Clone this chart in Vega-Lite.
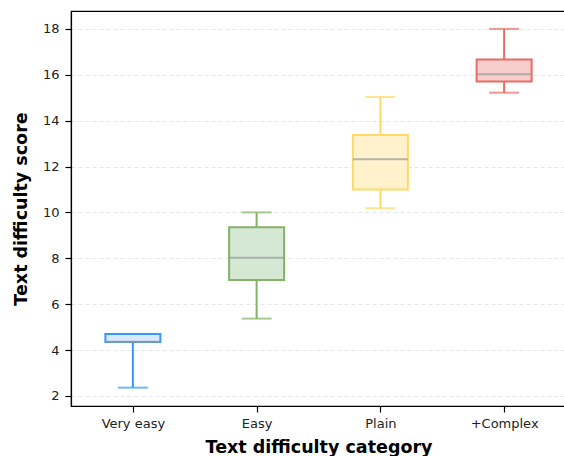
{
  "$schema": "https://vega.github.io/schema/vega-lite/v6.json",
  "autosize": "none",
  "padding": {"left": 71, "top": 11, "right": 0, "bottom": 50},
  "width": 495,
  "height": 395,
  "background": "white",
  "config": {
    "font": "DejaVu Sans",
    "view": {"stroke": "black", "strokeWidth": 1.2},
    "axis": {"labelFont": "DejaVu Sans", "titleFont": "DejaVu Sans", "labelColor": "#222222", "titleColor": "black", "domainColor": "black", "domainWidth": 1.2, "tickColor": "black", "tickWidth": 1.2, "tickSize": 6, "labelFontSize": 13, "titleFontSize": 17.5, "titleFontWeight": "bold"}
  },
  "data": {"values": [
    {"category": "Very easy", "lower": 2.36, "q1": 4.35, "median": 4.36, "q3": 4.7, "upper": 4.7},
    {"category": "Easy", "lower": 5.37, "q1": 7.05, "median": 8.02, "q3": 9.35, "upper": 10.0},
    {"category": "Plain", "lower": 10.18, "q1": 11.0, "median": 12.32, "q3": 13.37, "upper": 15.03},
    {"category": "+Complex", "lower": 15.22, "q1": 15.71, "median": 16.02, "q3": 16.67, "upper": 18.0}
  ]},
  "encoding": {
    "x": {"field": "category", "type": "nominal", "sort": ["Very easy", "Easy", "Plain", "+Complex"],
      "scale": {"type": "point", "padding": 0.5},
      "axis": {"title": "Text difficulty category", "labelAngle": 0, "labelPadding": 5, "titlePadding": 8, "grid": false}}
  },
  "layer": [
    {
      "mark": {"type": "rule", "strokeWidth": 2},
      "encoding": {
        "y": {"field": "lower", "type": "quantitative", "scale": {"domain": [1.56, 18.78], "nice": false, "zero": false},
          "axis": {"title": "Text difficulty score", "values": [2,4,6,8,10,12,14,16,18], "grid": true, "gridDash": [4,3], "gridColor": "#e6e6e6", "labelPadding": 6, "titlePadding": 12}},
        "y2": {"field": "upper"},
        "stroke": {"field": "category", "type": "nominal", "scale": {"domain": ["Very easy", "Easy", "Plain", "+Complex"], "range": ["#3399ff", "#82b366", "#ffd966", "#ea6b66"]}, "legend": null}
      }
    },
    {
      "mark": {"type": "tick", "thickness": 2, "size": 30},
      "encoding": {
        "y": {"field": "lower", "type": "quantitative"},
        "color": {"field": "category", "type": "nominal", "scale": {"domain": ["Very easy", "Easy", "Plain", "+Complex"], "range": ["#3399ff", "#82b366", "#ffd966", "#ea6b66"]}, "legend": null}
      }
    },
    {
      "mark": {"type": "tick", "thickness": 2, "size": 30},
      "encoding": {
        "y": {"field": "upper", "type": "quantitative"},
        "color": {"field": "category", "type": "nominal", "scale": {"domain": ["Very easy", "Easy", "Plain", "+Complex"], "range": ["#3399ff", "#82b366", "#ffd966", "#ea6b66"]}, "legend": null}
      }
    },
    {
      "mark": {"type": "bar", "size": 55, "strokeWidth": 2, "fillOpacity": 1},
      "encoding": {
        "y": {"field": "q1", "type": "quantitative"},
        "y2": {"field": "q3"},
        "fill": {"field": "category", "type": "nominal", "scale": {"domain": ["Very easy", "Easy", "Plain", "+Complex"], "range": ["#dae8fc", "#d5e8d4", "#fff2cc", "#f8cecc"]}, "legend": null},
        "stroke": {"field": "category", "type": "nominal", "legend": null}
      }
    },
    {
      "mark": {"type": "tick", "thickness": 2, "size": 55, "color": "#999999"},
      "encoding": {
        "y": {"field": "median", "type": "quantitative"}
      }
    }
  ]
}
